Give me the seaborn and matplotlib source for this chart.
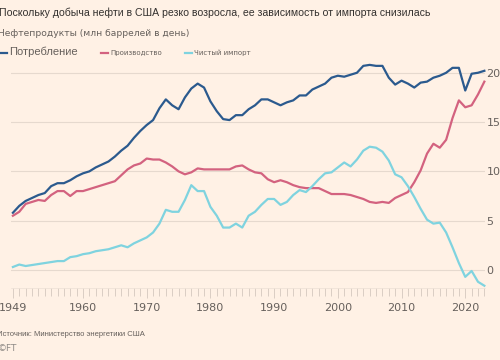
import seaborn as sns
import matplotlib.pyplot as plt
import pandas as pd
from matplotlib.ticker import MultipleLocator

# data (mln barrels per day)
years = list(range(1949, 2024))
consumption = [5.8, 6.5, 7.0, 7.3, 7.6, 7.8, 8.5, 8.8, 8.8, 9.1, 9.5,
               9.8, 10.0, 10.4, 10.7, 11.0, 11.5, 12.1, 12.6, 13.4, 14.1,
               14.7, 15.2, 16.4, 17.3, 16.7, 16.3, 17.5, 18.4, 18.9, 18.5,
               17.1, 16.1, 15.3, 15.2, 15.7, 15.7, 16.3, 16.7, 17.3, 17.3,
               17.0, 16.7, 17.0, 17.2, 17.7, 17.7, 18.3, 18.6, 18.9, 19.5,
               19.7, 19.6, 19.8, 20.0, 20.7, 20.8, 20.7, 20.7, 19.5, 18.8,
               19.2, 18.9, 18.5, 19.0, 19.1, 19.5, 19.7, 20.0, 20.5, 20.5,
               18.2, 19.9, 20.0, 20.2]
production = [5.5, 5.9, 6.7, 6.9, 7.1, 7.0, 7.6, 8.0, 8.0, 7.5, 8.0,
              8.0, 8.2, 8.4, 8.6, 8.8, 9.0, 9.6, 10.2, 10.6, 10.8,
              11.3, 11.2, 11.2, 10.9, 10.5, 10.0, 9.7, 9.9, 10.3, 10.2,
              10.2, 10.2, 10.2, 10.2, 10.5, 10.6, 10.2, 9.9, 9.8, 9.2,
              8.9, 9.1, 8.9, 8.6, 8.4, 8.3, 8.3, 8.3, 8.0, 7.7,
              7.7, 7.7, 7.6, 7.4, 7.2, 6.9, 6.8, 6.9, 6.8, 7.3,
              7.6, 7.9, 8.9, 10.1, 11.8, 12.8, 12.4, 13.2, 15.4, 17.2,
              16.5, 16.7, 17.8, 19.1]
net_imports = [0.3, 0.55, 0.4, 0.5, 0.6, 0.7, 0.8, 0.9, 0.9, 1.3, 1.4,
               1.6, 1.7, 1.9, 2.0, 2.1, 2.3, 2.5, 2.3, 2.7, 3.0,
               3.3, 3.8, 4.7, 6.1, 5.9, 5.9, 7.1, 8.6, 8.0, 8.0,
               6.4, 5.5, 4.3, 4.3, 4.7, 4.3, 5.5, 5.9, 6.6, 7.2,
               7.2, 6.6, 6.9, 7.6, 8.1, 7.9, 8.5, 9.2, 9.8, 9.9,
               10.4, 10.9, 10.5, 11.2, 12.1, 12.5, 12.4, 12.0, 11.1, 9.7,
               9.4, 8.5, 7.4, 6.2, 5.1, 4.7, 4.8, 3.8, 2.3, 0.7,
               -0.7, -0.1, -1.2, -1.6]

series = ["Потребление", "Производство", "Чистый импорт"]
colors = ["#2b5a8e", "#d3627f", "#7fd3df"]
xticks = [1949, 1960, 1970, 1980, 1990, 2000, 2010, 2020]
yticks = [0, 5, 10, 15, 20]

df = pd.DataFrame({"year": years,
                   series[0]: consumption,
                   series[1]: production,
                   series[2]: net_imports})
long = df.melt(id_vars="year", var_name="series", value_name="value")

bg = "#fff1e5"
grey = "#66605c"

fig = plt.figure(figsize=(5, 3.6), dpi=100, facecolor=bg)
ax = fig.add_axes([0.022, 0.2, 0.948, 0.628], facecolor=bg)

sns.lineplot(data=long, x="year", y="value", hue="series", hue_order=series,
             palette=dict(zip(series, colors)), linewidth=1.6, ax=ax,
             legend=False, clip_on=False)

ax.set_xlim(1948.7, 2023.1)
ax.set_ylim(-1.83, 21.1)
ax.set_xlabel("")
ax.set_ylabel("")

ax.set_yticks(yticks)
ax.yaxis.tick_right()
ax.tick_params(axis="y", length=0, pad=1, labelsize=8, labelcolor=grey)
ax.grid(axis="y", color="#e6d9ce", linewidth=0.8)
ax.set_axisbelow(True)

ax.set_xticks(xticks)
ax.xaxis.set_minor_locator(MultipleLocator(1))
ax.tick_params(axis="x", which="major", length=7, width=0.6, color="#d4c8be",
               labelsize=8, labelcolor=grey, pad=4)
ax.tick_params(axis="x", which="minor", length=6, width=0.6, color="#d4c8be")
for s in ["top", "right", "left"]:
    ax.spines[s].set_visible(False)
ax.spines["bottom"].set_color("#ebdfd5")
ax.spines["bottom"].set_linewidth(0.5)

# titles
fig.text(-0.002, 0.965, "Поскольку добыча нефти в США резко возросла, ее зависимость от импорта снизилась",
         fontsize=7.6, color="#33302e", family="Liberation Sans", va="center")
fig.text(-0.004, 0.908, "Нефтепродукты (млн баррелей в день)",
         fontsize=6.6, color=grey, family="DejaVu Sans", va="center")

# legend
handles = [plt.Line2D([], [], color=c, linewidth=1.6) for c in colors]
leg = fig.legend(handles, series, loc="center left", bbox_to_anchor=(-0.006, 0.855),
                 ncol=3, frameon=False, handlelength=1.1, handletextpad=0.25,
                 columnspacing=3.3, fontsize=5, borderaxespad=0)
for t in leg.get_texts():
    t.set_color(grey)
leg.get_texts()[0].set_fontsize(8)
leg.get_texts()[0].set_family("Liberation Sans")

# source
fig.text(-0.006, 0.07, "Источник: Министерство энергетики США",
         fontsize=5.5, color=grey, family="Liberation Sans", va="center")
fig.text(-0.004, 0.033, "©FT", fontsize=6.5, color="#8f8a86", va="center")

fig.savefig("out.png", dpi=100, facecolor=bg)
